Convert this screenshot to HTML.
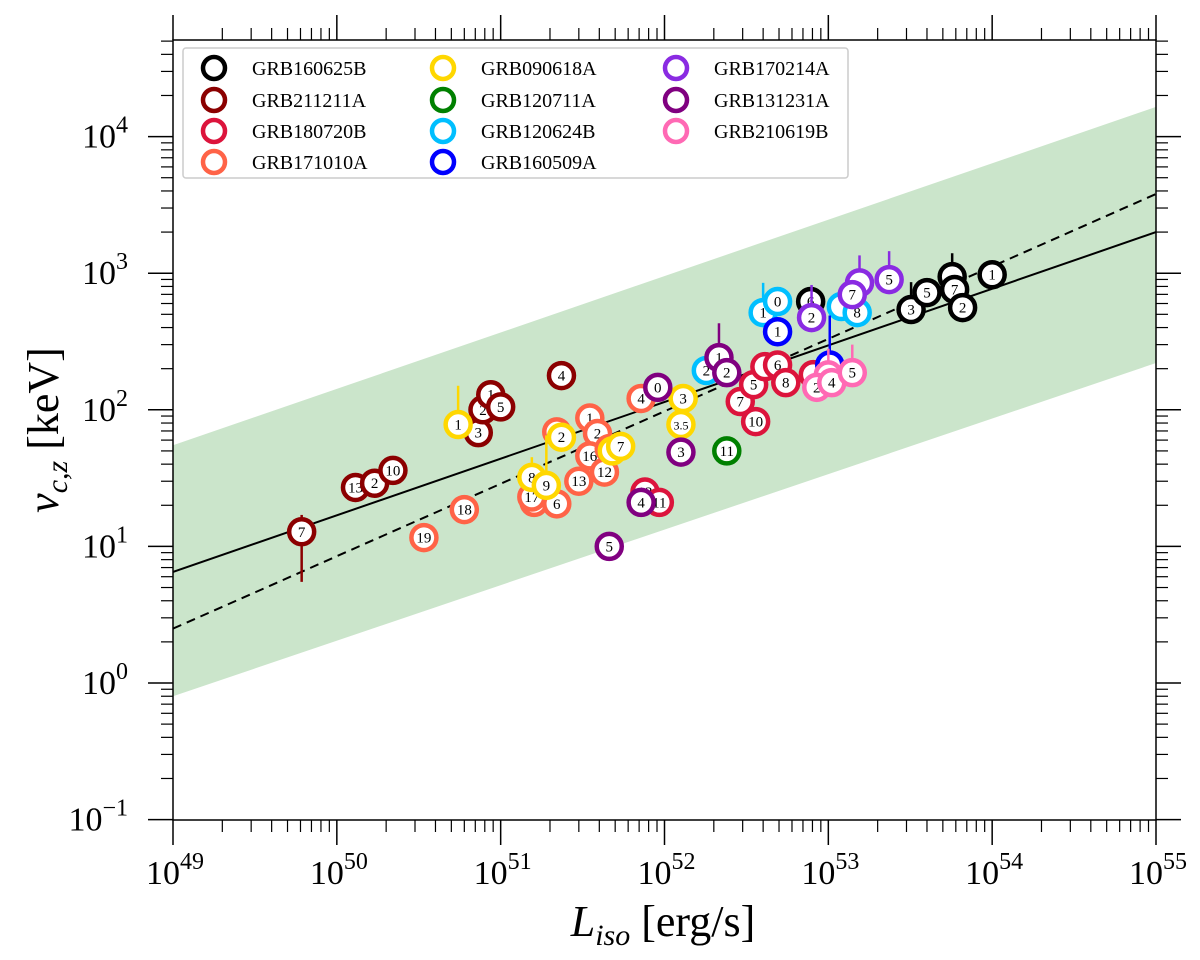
<!DOCTYPE html>
<html><head><meta charset="utf-8"><style>
body{margin:0;background:#fff}
svg{display:block;font-family:"Liberation Serif","DejaVu Serif",serif}
</style></head><body>
<svg id="chart" width="1200" height="960">
<defs><clipPath id="pc"><rect x="173" y="40" width="983" height="780"/></clipPath></defs>
<g id="band" clip-path="url(#pc)"></g>
<g id="lines" clip-path="url(#pc)"></g>
<g id="marks"></g>
<g id="axes"></g>
<g id="legend"></g>
<text x="663" y="936" text-anchor="middle" font-size="44"><tspan font-style="italic">L</tspan><tspan font-style="italic" font-size="30" dy="9">iso</tspan><tspan dy="-9"> [erg/s]</tspan></text>
<text transform="translate(58,430) rotate(-90)" text-anchor="middle" font-size="44"><tspan font-style="italic">ν</tspan><tspan font-style="italic" font-size="30" dy="9">c,z</tspan><tspan dy="-9"> [keV]</tspan></text>
</svg>
<script>
const NS='http://www.w3.org/2000/svg';
const seriesNames=['GRB160625B','GRB211211A','GRB180720B','GRB171010A','GRB090618A','GRB120711A','GRB120624B','GRB160509A','GRB170214A','GRB131231A','GRB210619B'];
const seriesColors=['#000000','#8b0000','#dc143c','#ff6347','#ffd700','#008000','#00bfff','#0000ff','#8a2be2','#800080','#ff69b4'];
const lum=[
[7.8e52,3.2e53,4.0e53,5.7e53,5.9e53,6.6e53,1.0e54],
[6.1e49,1.3e50,1.7e50,2.2e50,7.3e50,7.8e50,8.7e50,1.0e51,2.35e51],
[7.6e51,9.3e51,2.9e52,3.5e52,3.6e52,4.1e52,4.9e52,5.5e52,8.1e52],
[3.4e50,6.0e50,1.6e51,1.55e51,2.2e51,2.2e51,3.5e51,3.9e51,3.5e51,4.3e51,3.0e51,4.6e51,7.2e51],
[5.5e50,1.55e51,1.9e51,2.35e51,4.8e51,5.4e51,1.3e52,1.26e52],
[2.4e52],
[1.8e52,4.0e52,4.9e52,1.2e53,1.5e53],
[4.9e52,1.02e53],
[7.9e52,1.55e53,1.4e53,2.35e53],
[9.1e51,2.15e52,2.4e52,1.26e52,7.2e51,4.6e51],
[1.0e53,8.5e52,1.05e53,1.4e53]];
const nu=[
[620,542,721,944,760,560,975],
[12.8,27,29,36,68,100,129,105,178],
[25,21,115,153,82,207,213,158,181],
[11.6,18.6,21,23,20.5,69,87,67,46,35,30,52,121],
[78,32,28,63,50,54,121,78],
[50],
[194,515,620,570,515],
[373,213],
[473,850,697,898],
[146,241,187,49,21,10],
[180,146,158,187]];
const labels=[
['6','3','5','','7','2','1'],
['7','13','2','10','3','2','1','5','4'],
['13','11','7','5','10','','6','8',''],
['19','18','','17','6','','1','2','16','12','13','','4'],
['1','8','9','2','','7','3','3.5'],
['11'],
['2','1','0','','8'],
['1',''],
['2','','7','5'],
['0','1','2','3','4','5'],
['','2','4','5']];
const errUp=[
[0,860,0,1400,0,0,0],
[17,0,0,0,0,0,0,0,0],
[0,0,0,0,0,0,0,0,0],
[0,0,0,0,0,0,0,0,0,0,0,0,0],
[150,45,65,0,0,0,0,0],
[0],
[0,850,0,0,0],
[0,490],
[820,1350,0,1450],
[0,430,0,0,0,0],
[280,0,0,300]];
const errDown=[[],[5.5],[],[],[],[40],[],[],[],[],[]];
const xTicks=[49,50,51,52,53,54,55];
const yTicks=[-1,0,1,2,3,4];
const fitSolid=[6.5,2000];
const fitDashed=[2.5,3800];
const bandUpper=[55,16500];
const bandLower=[0.8,220];
const X0=173,X1=1156,Y0=820,Y1=40;
const xs=v=>X0+(Math.log10(v)-49)/6*(X1-X0);
const ys=v=>683-Math.log10(v)*136.6;
function el(t,a,p){const e=document.createElementNS(NS,t);for(const k in a)e.setAttribute(k,a[k]);p.appendChild(e);return e;}
const band=document.getElementById('band');
const bp=el('polygon',{points:`${xs(1e49)},${ys(bandUpper[0])} ${xs(1e55)},${ys(bandUpper[1])} ${xs(1e55)},${ys(bandLower[1])} ${xs(1e49)},${ys(bandLower[0])}`,fill:'#cbe5cb'},band);


const lg=document.getElementById('lines');
const l1=el('line',{x1:xs(1e49),y1:ys(fitSolid[0]),x2:xs(1e55),y2:ys(fitSolid[1]),stroke:'#000','stroke-width':2},lg);


const l2=el('line',{x1:xs(1e49),y1:ys(fitDashed[0]),x2:xs(1e55),y2:ys(fitDashed[1]),stroke:'#000','stroke-width':2,'stroke-dasharray':'9,6'},lg);


const mg=document.getElementById('marks');
for(let s=0;s<seriesNames.length;s++){
  const c=seriesColors[s];
  for(let i=0;i<lum[s].length;i++){
    const g=el('g',{},mg);
    
    
    const x=xs(lum[s][i]),y=ys(nu[s][i]);
    if(errUp[s][i])el('line',{x1:x,y1:y,x2:x,y2:ys(errUp[s][i]),stroke:c,'stroke-width':2.5},g);
    if(errDown[s][i])el('line',{x1:x,y1:y,x2:x,y2:ys(errDown[s][i]),stroke:c,'stroke-width':2.5},g);
    el('circle',{cx:x,cy:y,r:12.5,fill:'#fff',stroke:c,'stroke-width':4.5},g);
    if(labels[s][i]){const t=el('text',{x:x,y:y+5,'text-anchor':'middle','font-size':labels[s][i].length>2?12:15},g);t.textContent=labels[s][i];}
  }
}
const ax=document.getElementById('axes');
el('rect',{x:X0,y:Y1,width:X1-X0,height:Y0-Y1,fill:'none',stroke:'#000','stroke-width':1.5},ax);
for(let d=49;d<=55;d++){
  const x=xs(Math.pow(10,d));
  el('line',{x1:x,y1:Y0,x2:x,y2:Y0+25,stroke:'#000','stroke-width':1.5},ax);
  el('line',{x1:x,y1:Y1,x2:x,y2:Y1-25,stroke:'#000','stroke-width':1.5},ax);
  if(d<55)for(let m=2;m<10;m++){const xm=xs(m*Math.pow(10,d));
    el('line',{x1:xm,y1:Y0,x2:xm,y2:Y0+12,stroke:'#000','stroke-width':1.2},ax);
    el('line',{x1:xm,y1:Y1,x2:xm,y2:Y1-12,stroke:'#000','stroke-width':1.2},ax);}
}
xTicks.forEach(d=>{const t=el('text',{x:xs(Math.pow(10,d))+2,y:884,'text-anchor':'middle','font-size':34},ax);
  
  t.innerHTML=`10<tspan font-size="24" dy="-15">${d}</tspan>`;});
for(let d=-1;d<=4;d++){
  const y=ys(Math.pow(10,d));
  el('line',{x1:X0,y1:y,x2:X0-25,y2:y,stroke:'#000','stroke-width':1.5},ax);
  el('line',{x1:X1,y1:y,x2:X1+25,y2:y,stroke:'#000','stroke-width':1.5},ax);
  for(let m=2;m<10;m++){const v=m*Math.pow(10,d);const ym=ys(v);if(ym<Y1)break;
    el('line',{x1:X0,y1:ym,x2:X0-12,y2:ym,stroke:'#000','stroke-width':1.2},ax);
    el('line',{x1:X1,y1:ym,x2:X1+12,y2:ym,stroke:'#000','stroke-width':1.2},ax);}
}
yTicks.forEach(d=>{const t=el('text',{x:128,y:ys(Math.pow(10,d))+11,'font-size':34,'text-anchor':'end'},ax);
  
  t.innerHTML=`10<tspan font-size="24" dy="-15">${d<0?'−1':d}</tspan>`;});
const lgd=document.getElementById('legend');
el('rect',{x:183,y:48,width:665,height:130,rx:3,fill:'#fff',stroke:'#ccc','stroke-width':1.5},lgd);
const colX=[214,443,676],rowY=[68,100,131,162];
seriesNames.forEach((n,i)=>{
  const col=Math.floor(i/4),row=i%4;
  const g=el('g',{},lgd);
  
  
  el('circle',{cx:colX[col],cy:rowY[row],r:11,fill:'#fff',stroke:seriesColors[i],'stroke-width':4.5},g);
  const t=el('text',{x:colX[col]+38,y:rowY[row]+7,'font-size':20},g);t.textContent=n;
});
</script>
</body></html>
